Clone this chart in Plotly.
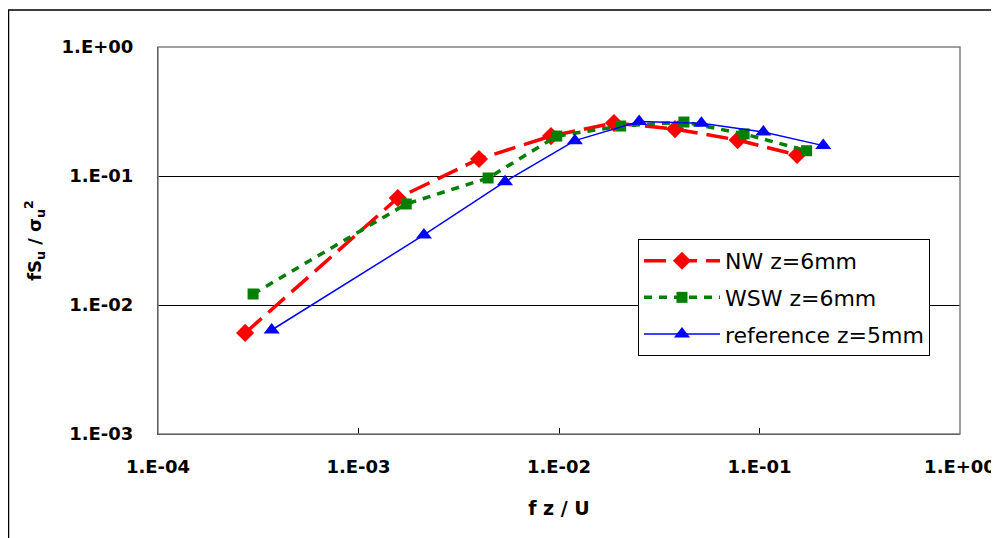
import plotly.graph_objects as go

nw_x = [2.72e-4, 1.57e-3, 3.99e-3, 9.12e-3, 0.0188, 0.0379, 0.0778, 0.154]
nw_y = [6.07e-3, 0.0675, 0.1355, 0.204, 0.2575, 0.231, 0.190, 0.1455]

wsw_x = [2.98e-4, 1.73e-3, 4.43e-3, 9.75e-3, 0.0203, 0.0420, 0.0838, 0.1718]
wsw_y = [0.01217, 0.0607, 0.0965, 0.204, 0.244, 0.262, 0.212, 0.157]

ref_x = [3.69e-4, 2.12e-3, 5.38e-3, 0.0120, 0.0251, 0.0513, 0.1045, 0.208]
ref_y = [6.4e-3, 0.0349, 0.0903, 0.188, 0.264, 0.256, 0.219, 0.172]

x_tickvals = [1e-4, 1e-3, 1e-2, 1e-1, 1e0]
x_ticktext = ["1.E-04", "1.E-03", "1.E-02", "1.E-01", "1.E+00"]
y_tickvals = [1e-3, 1e-2, 1e-1, 1e0]
y_ticktext = ["1.E-03", "1.E-02", "1.E-01", "1.E+00"]

tick_font = dict(family="DejaVu Sans", size=18, color="black", weight="bold")

fig = go.Figure()
fig.add_trace(go.Scatter(
    x=nw_x, y=nw_y, name="NW z=6mm", mode="lines+markers", legendgroup="a",
    line=dict(color="#ff0000", width=3.5, dash="22px,9px"),
    marker=dict(symbol="diamond", size=14, color="#ff0000"),
))
fig.add_trace(go.Scatter(
    x=wsw_x, y=wsw_y, name="WSW z=6mm", mode="lines+markers", legendgroup="b",
    line=dict(color="#008000", width=3.5, dash="8px,7px"),
    marker=dict(symbol="square", size=11, color="#008000"),
))
fig.add_trace(go.Scatter(
    x=ref_x, y=ref_y, name="reference z=5mm", mode="lines+markers", legendgroup="c",
    line=dict(color="#0000ff", width=1.5),
    marker=dict(symbol="triangle-up", size=14, color="#0000ff"),
))

fig.update_layout(
    width=991, height=530,
    margin=dict(l=150, r=39, t=39, b=104),
    paper_bgcolor="white", plot_bgcolor="white",
    font=dict(family="DejaVu Sans", color="black"),
    showlegend=True,
    legend=dict(
        x=0.5985, y=0.504, xanchor="left", yanchor="top",
        bgcolor="white", bordercolor="black", borderwidth=1,
        font=dict(family="DejaVu Sans", size=22, color="black"),
        itemwidth=76, tracegroupgap=5, traceorder="grouped",
    ),
    xaxis=dict(
        type="log", range=[-4, 0], automargin=False,
        tickvals=x_tickvals, ticktext=x_ticktext,
        tickfont=tick_font, ticklabelstandoff=16,
        ticks="inside", ticklen=6, tickcolor="black",
        showline=True, linecolor="black", linewidth=1,
        showgrid=False, zeroline=False,
        title=dict(text="<b>f z / U</b>", font=dict(family="DejaVu Sans", size=19), standoff=26),
    ),
    yaxis=dict(
        type="log", range=[-3, 0], automargin=False,
        tickvals=y_tickvals, ticktext=y_ticktext,
        tickfont=tick_font, ticklabelstandoff=20,
        ticks="inside", ticklen=6, tickcolor="black",
        showline=True, linecolor="black", linewidth=1,
        showgrid=True, gridcolor="black", gridwidth=1,
        zeroline=False,
        title=dict(text="<b>fS<sub>u</sub> / σ<sub>u</sub><sup>2</sup></b>",
                   font=dict(family="DejaVu Sans", size=18), standoff=15),
    ),
    shapes=[
        dict(type="rect", xref="paper", yref="paper", x0=0, x1=1, y0=0, y1=1,
             line=dict(color="#808080", width=1.5), layer="above"),
        dict(type="rect", xref="paper", yref="paper", x0=-0.1864, x1=1.06, y0=-0.4, y1=1.0956,
             line=dict(color="black", width=1.5)),
    ],
)

fig.write_html("out.html")
